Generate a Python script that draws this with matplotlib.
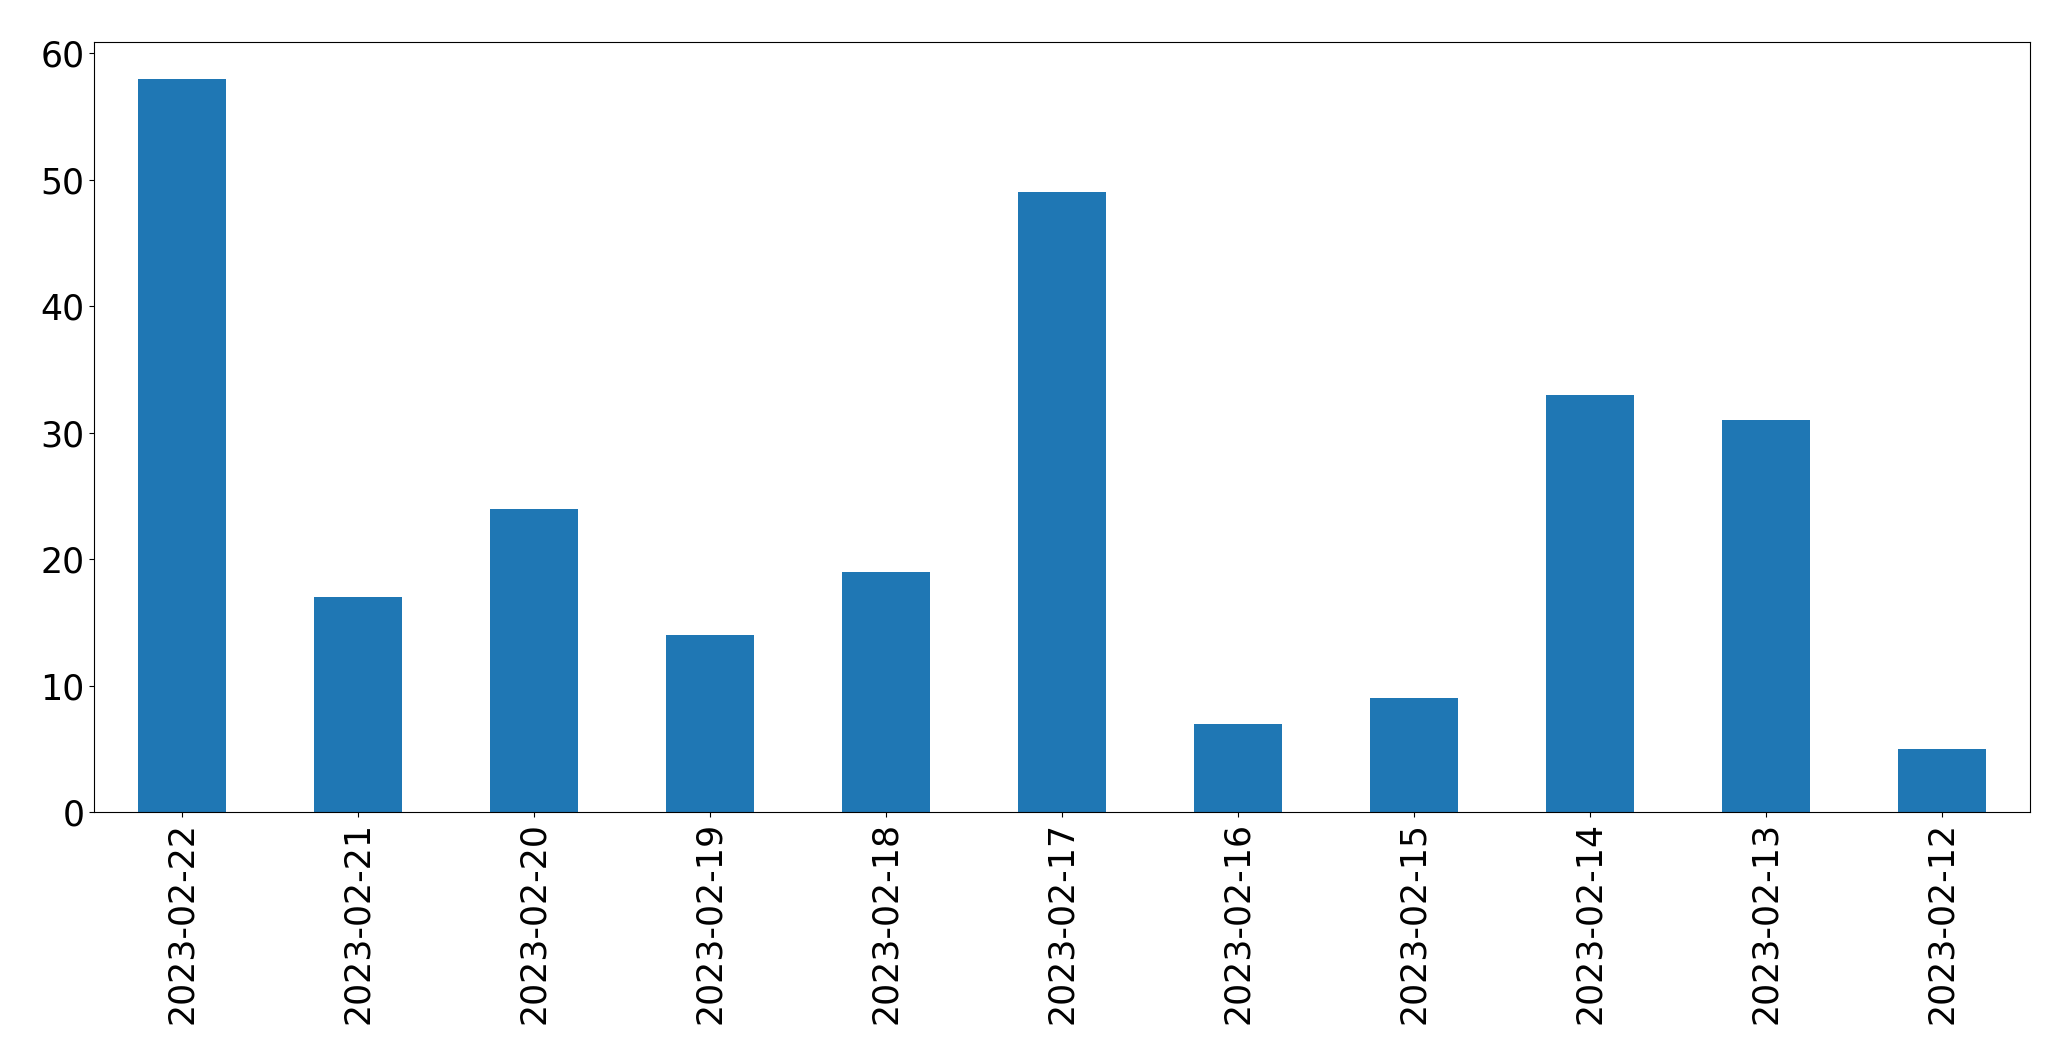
import matplotlib
matplotlib.use('Agg')
import matplotlib.pyplot as plt
import numpy as np

# Data
# ----------------------------------
dates = ['2023-02-22', '2023-02-21', '2023-02-20', '2023-02-19', '2023-02-18',
         '2023-02-17', '2023-02-16', '2023-02-15', '2023-02-14', '2023-02-13',
         '2023-02-12']
counts = [58, 17, 24, 14, 19, 49, 7, 9, 33, 31, 5]

# Figure and axes layout
# ----------------------
fig = plt.figure(figsize=(20.71, 10.64), dpi=100)
ax = fig.add_axes([0.0456, 0.2368, 0.9344, 0.7237])

x = np.arange(len(dates))
ax.bar(x, counts, width=0.5, color='#1f77b4')
ax.set_xlim(-0.5, len(dates) - 0.5)
ax.set_xticks(x)
ax.set_xticklabels(dates, rotation=90)
ax.tick_params(axis='both', labelsize=25)

fig.savefig('out.png', dpi=100)
